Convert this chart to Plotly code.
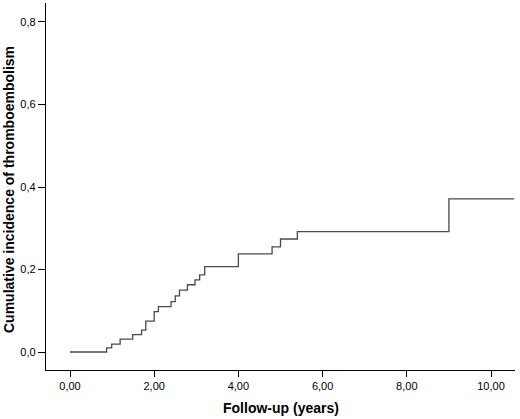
import plotly.graph_objects as go

# follow-up times (years) where the cumulative incidence steps up
times = [0.0, 0.87, 0.99, 1.19, 1.49, 1.70, 1.80, 2.00, 2.10, 2.40, 2.50, 2.60,
         2.79, 2.97, 3.08, 3.20, 4.00, 4.80, 5.00, 5.40, 9.00, 10.55]
cum_inc = [0.0, 0.010, 0.019, 0.031, 0.042, 0.053, 0.075, 0.098, 0.110, 0.122, 0.136, 0.150,
           0.163, 0.175, 0.187, 0.207, 0.238, 0.255, 0.274, 0.292, 0.371, 0.371]

x_ticks = [0, 2, 4, 6, 8, 10]
y_ticks = [0.0, 0.2, 0.4, 0.6, 0.8]

x_title = 'Follow-up (years)'
y_title = 'Cumulative incidence of thromboembolism'

font_family = "Liberation Sans, Arial, sans-serif"

W, H = 520, 419
L, R, T, B = 46, 5, 3, 49

fig = go.Figure()

fig.add_trace(
    go.Scatter(
        x=times,
        y=cum_inc,
        mode='lines',
        line=dict(color='#4a4a4a', width=1.3, shape='hv'),
        showlegend=False
    )
)

# axis titles as annotations so the margins stay fixed
fig.add_annotation(
    text='<b>' + x_title + '</b>', xref='paper', yref='paper',
    x=0.5, y=-(408 - (H - B)) / (H - T - B), xanchor='center', yanchor='middle',
    showarrow=False, font=dict(size=14)
)
fig.add_annotation(
    text='<b>' + y_title + '</b>', xref='paper', yref='paper',
    x=-(L - 9) / (W - L - R), y=1 - (190 - T) / (H - T - B), xanchor='center', yanchor='middle',
    textangle=-90, showarrow=False, font=dict(size=14)
)

fig.update_layout(
    width=W,
    height=H,
    margin=dict(l=L, r=R, t=T, b=B),
    separators=',.',
    font=dict(family=font_family, color='black', size=11),
    plot_bgcolor='white',
    paper_bgcolor='white',
    xaxis=dict(
        range=[-0.57, 10.57],
        tickvals=x_ticks,
        tickformat='.2f',
        showline=True,
        linecolor='black',
        linewidth=1.4,
        ticks='outside',
        ticklen=6,
        tickcolor='black',
        showgrid=False,
        zeroline=False,
        automargin=False,
    ),
    yaxis=dict(
        range=[-0.0436, 0.846],
        tickvals=y_ticks,
        tickformat='.1f',
        showline=True,
        linecolor='black',
        linewidth=1.4,
        ticks='outside',
        ticklen=7,
        tickcolor='black',
        showgrid=False,
        zeroline=False,
        automargin=False,
    ),
)

# page body has a default margin; remove it so the figure sits at the top-left corner
fig.write_html("out.html", config={'displayModeBar': False},
               post_script="document.body.style.margin='0';")
